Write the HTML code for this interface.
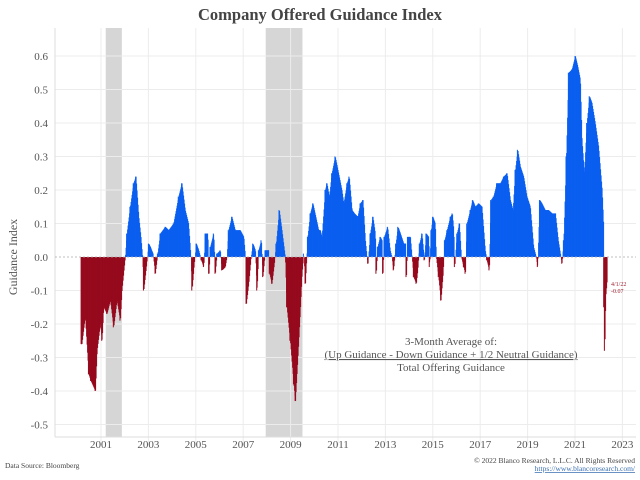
<!DOCTYPE html>
<html><head><meta charset="utf-8"><style>
body{margin:0;background:#fff;}
svg{display:block;font-family:"Liberation Serif",serif;}
</style></head><body>
<svg id="chart" width="640" height="480" viewBox="0 0 640 480">
<text x="320" y="20" text-anchor="middle" font-size="16.5" font-weight="bold" fill="#444">Company Offered Guidance Index</text>
<g id="rec"></g>
<g id="grid"></g>
<g id="bars"></g>
<g id="axes"></g>
<text transform="translate(17,257) rotate(-90)" text-anchor="middle" font-size="12" fill="#555">Guidance Index</text>
<g font-size="11" fill="#555" text-anchor="middle">
<text x="451" y="345">3-Month Average of:</text>
<text x="451" y="358" text-decoration="underline">(Up Guidance - Down Guidance + 1/2 Neutral Guidance)</text>
<text x="451" y="371">Total Offering Guidance</text>
</g>
<text x="611" y="286" font-size="6" fill="#a02030">4/1/22</text>
<text x="611" y="293" font-size="6" fill="#a02030">-0.07</text>
<text x="5" y="468" font-size="7.5" fill="#444">Data Source: Bloomberg</text>
<text x="635" y="463" font-size="7.5" fill="#444" text-anchor="end">© 2022 Blanco Research, L.L.C. All Rights Reserved</text>
<text x="635" y="471" font-size="7.5" fill="#3a6fb0" text-anchor="end" text-decoration="underline">https://www.blancoresearch.com/</text>
</svg>
<script>
const yTicks=[0.6,0.5,0.4,0.3,0.2,0.1,0.0,-0.1,-0.2,-0.3,-0.4,-0.5];
const xTicks=[2001,2003,2005,2007,2009,2011,2013,2015,2017,2019,2021,2023];
const recStart=[2001.2,2007.95];
const recEnd=[2001.88,2009.5];
const dates=[2000.16,2000.18,2000.32,2000.47,2000.56,2000.75,2000.82,2000.96,2001.03,2001.10,2001.24,2001.38,2001.52,2001.66,2001.80,2001.87,2001.94,2002.01,2002.08,2002.22,2002.36,2002.46,2002.58,2002.67,2002.74,2002.79,2002.90,2003.00,2003.07,2003.18,2003.28,2003.38,2003.49,2003.70,2003.84,2004.05,2004.26,2004.40,2004.54,2004.68,2004.78,2004.83,2004.92,2005.01,2005.11,2005.22,2005.32,2005.39,2005.49,2005.54,2005.60,2005.74,2005.81,2005.88,2006.02,2006.09,2006.23,2006.30,2006.37,2006.51,2006.65,2006.86,2007.01,2007.08,2007.12,2007.22,2007.32,2007.40,2007.50,2007.57,2007.64,2007.75,2007.82,2007.92,2008.06,2008.10,2008.20,2008.30,2008.38,2008.51,2008.62,2008.76,2008.83,2008.97,2009.12,2009.19,2009.33,2009.47,2009.54,2009.61,2009.71,2009.82,2009.93,2010.17,2010.24,2010.31,2010.45,2010.52,2010.62,2010.73,2010.87,2011.01,2011.15,2011.23,2011.37,2011.46,2011.58,2011.68,2011.82,2011.93,2012.04,2012.14,2012.21,2012.25,2012.35,2012.46,2012.56,2012.60,2012.66,2012.77,2012.84,2012.88,2012.94,2013.08,2013.19,2013.26,2013.33,2013.43,2013.52,2013.62,2013.76,2013.84,2013.87,2013.93,2014.04,2014.11,2014.18,2014.29,2014.35,2014.43,2014.53,2014.63,2014.71,2014.81,2014.85,2014.92,2014.99,2015.09,2015.13,2015.23,2015.33,2015.42,2015.49,2015.59,2015.73,2015.81,2015.87,2015.91,2016.01,2016.11,2016.19,2016.29,2016.36,2016.43,2016.57,2016.67,2016.78,2016.92,2017.06,2017.20,2017.27,2017.37,2017.44,2017.55,2017.69,2017.84,2017.98,2018.12,2018.26,2018.37,2018.47,2018.57,2018.68,2018.82,2018.96,2019.10,2019.24,2019.35,2019.41,2019.50,2019.59,2019.73,2019.87,2020.02,2020.16,2020.28,2020.37,2020.44,2020.51,2020.62,2020.72,2020.86,2021.00,2021.10,2021.21,2021.28,2021.38,2021.49,2021.60,2021.70,2021.84,2021.98,2022.13,2022.20,2022.21,2022.24,2022.28,2022.34];
const values=[-0.26,-0.26,-0.18,-0.35,-0.37,-0.40,-0.28,-0.20,-0.25,-0.15,-0.17,-0.13,-0.21,-0.13,-0.19,-0.10,-0.05,0.0,0.07,0.15,0.22,0.24,0.12,0.06,0.0,-0.10,-0.03,0.04,0.03,0.01,-0.05,0.01,0.07,0.09,0.08,0.10,0.18,0.22,0.14,0.10,0.0,-0.10,-0.02,0.04,0.02,-0.01,-0.03,0.07,0.07,-0.05,0.03,0.07,-0.05,0.01,0.02,-0.04,-0.03,0.0,0.08,0.12,0.08,0.08,0.06,0.0,-0.14,-0.08,0.0,0.04,0.02,-0.10,0.02,0.05,-0.06,0.02,0.02,-0.05,-0.08,-0.02,0.04,0.14,0.08,0.0,-0.15,-0.25,-0.38,-0.43,-0.25,-0.05,0.01,-0.08,0.06,0.13,0.16,0.08,0.08,0.06,0.20,0.22,0.18,0.25,0.30,0.25,0.20,0.16,0.22,0.24,0.14,0.13,0.12,0.16,0.17,0.05,0.0,-0.02,0.07,0.12,0.07,-0.05,0.03,0.06,0.05,-0.05,0.06,0.09,0.02,0.0,-0.04,0.04,0.09,0.07,0.04,0.04,-0.06,0.06,0.06,0.0,-0.06,-0.08,-0.04,0.04,0.07,-0.01,0.07,0.06,-0.03,0.08,0.12,0.10,0.0,-0.06,-0.13,-0.05,0.05,0.08,0.12,0.13,0.08,-0.03,0.07,0.10,0.0,-0.03,-0.05,0.10,0.14,0.17,0.15,0.16,0.15,0.02,-0.01,-0.04,0.17,0.18,0.22,0.22,0.24,0.25,0.17,0.14,0.26,0.32,0.27,0.24,0.18,0.15,0.03,0.0,-0.03,0.17,0.16,0.14,0.14,0.13,0.13,0.05,0.01,-0.02,0.05,0.30,0.55,0.56,0.60,0.57,0.53,0.35,0.25,0.40,0.48,0.46,0.40,0.33,0.20,0.08,-0.15,-0.28,-0.12,-0.07];

const NS='http://www.w3.org/2000/svg';
const L=55,R=636,T=28,B=437;
const X=y=>101+(y-2001)*23.7;
const Y=v=>257-v*335;
function mk(tag,attrs,parent){const e=document.createElementNS(NS,tag);for(const k in attrs)e.setAttribute(k,attrs[k]);parent.appendChild(e);return e;}
const rec=document.getElementById('rec'),grid=document.getElementById('grid'),bars=document.getElementById('bars'),axes=document.getElementById('axes');
recStart.forEach((s,i)=>{const r=mk('rect',{x:X(s),y:T,width:X(recEnd[i])-X(s),height:B-T,fill:'#d6d6d6'},rec);

});
yTicks.forEach(v=>{if(v!==0){const l=mk('line',{x1:L,x2:R,y1:Y(v),y2:Y(v),stroke:'#ececec','stroke-width':1},grid);

}
const t=mk('text',{x:48,y:Y(v)+4,'text-anchor':'end','font-size':11,fill:'#555'},axes);t.textContent=v.toFixed(1);

});
xTicks.forEach(y=>{const l=mk('line',{x1:X(y),x2:X(y),y1:T,y2:B+8,stroke:'#ececec','stroke-width':1},grid);


const t=mk('text',{x:X(y),y:448,'text-anchor':'middle','font-size':11,fill:'#555'},axes);t.textContent=y;

});
mk('line',{x1:L,x2:L,y1:T,y2:B,stroke:'#ddd'},axes);
mk('line',{x1:L,x2:R,y1:B,y2:B,stroke:'#ddd'},axes);
// filled area: one thin column per data point interval step, drawn from the arrays
function valAt(t){for(let i=0;i<dates.length-1;i++){if(t>=dates[i]&&t<=dates[i+1]){const f=(t-dates[i])/(dates[i+1]-dates[i]||1);return values[i]+f*(values[i+1]-values[i]);}}return null;}
const x0=X(dates[0]),x1=X(dates[dates.length-1]);
for(let px=x0;px<=x1;px+=0.5){const t=2001+(px-101)/23.7;const v=valAt(t);if(v===null)continue;
const y0=Y(0),yv=Y(v);
const r=mk('rect',{x:px,y:Math.min(y0,yv),width:1,height:Math.abs(yv-y0),fill:v>=0?'#0a5ef0':'#960a1e'},bars);

}
// ensure data points (spikes) are drawn exactly
dates.forEach((d,i)=>{const v=values[i];const y0=Y(0),yv=Y(v);
const r=mk('rect',{x:X(d)-0.5,y:Math.min(y0,yv),width:1,height:Math.abs(yv-y0),fill:v>=0?'#0a5ef0':'#960a1e'},bars);

});
mk('line',{x1:L,x2:R,y1:Y(0),y2:Y(0),stroke:'#aaa','stroke-dasharray':'2,2','stroke-width':0.8},axes);
</script>
</body></html>
